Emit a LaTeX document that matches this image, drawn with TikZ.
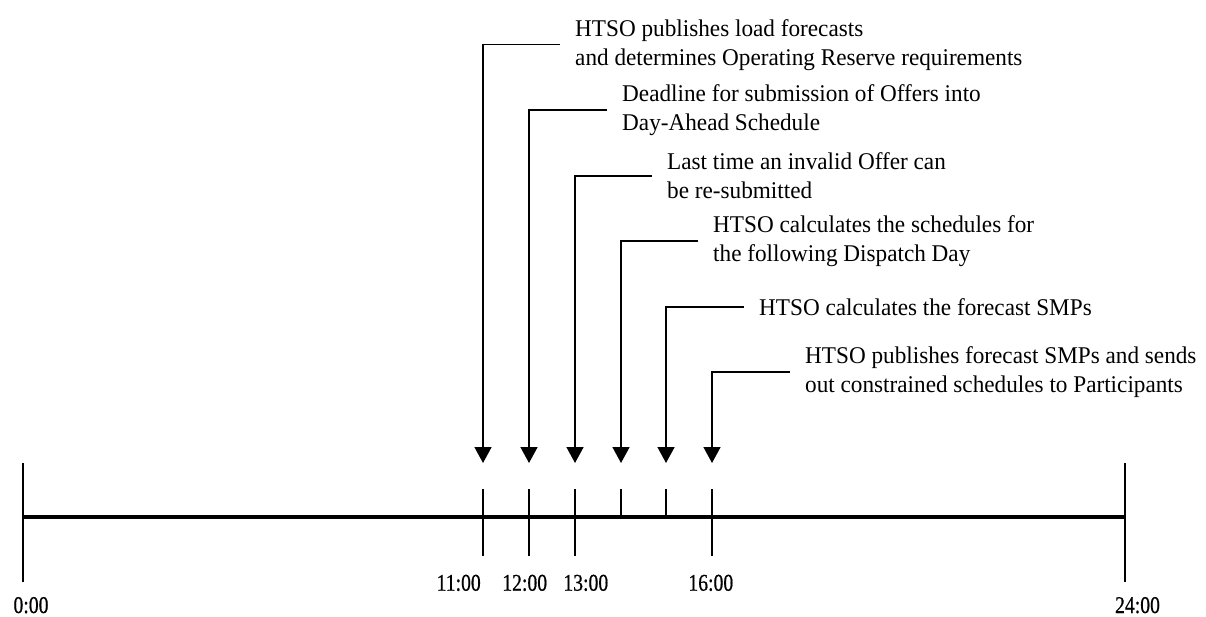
\documentclass[tikz,border=0pt]{standalone}
\usepackage{fontspec}
\setmainfont[FakeStretch=0.967]{Liberation Serif}
\newfontfamily\lblfont[FakeStretch=0.82,FakeBold=0.6]{Liberation Serif}
\usetikzlibrary{arrows.meta}
\begin{document}
\begin{tikzpicture}[x=1pt,y=-1pt,
  tickline/.style={line width=1.6pt},
  axisline/.style={line width=4.5pt},
  conn/.style={line width=1.6pt,-{Triangle[length=16pt,width=17pt]}},
  evt/.style={anchor=west,inner sep=0pt,align=left,font=\fontsize{24}{29}\selectfont},
  lbl/.style={anchor=base,inner sep=0pt,font=\lblfont\fontsize{24}{28}\selectfont}]
\useasboundingbox (0,0) rectangle (1206,617);

% axis
\coordinate (a0) at (23,517);
\coordinate (a24) at (1125,517);
\draw[axisline] (a0) -- (a24);
\draw[tickline] (23,463) -- (23,582);
\draw[tickline] (1125,463) -- (1125,582);

% event ticks
\foreach \x in {483,529,575,712} \draw[tickline] (\x,489) -- (\x,556);
\foreach \x in {621,666} \draw[tickline] (\x,489) -- (\x,517);

% labels
\node[lbl] (l0)  at (31,613) {0:00};
\node[lbl] (l11) at (458.7,590.7) {11:00};
\node[lbl] (l12) at (524.7,590.7) {12:00};
\node[lbl] (l13) at (585.8,590.7) {13:00};
\node[lbl] (l16) at (710.8,590.7) {16:00};
\node[lbl] (l24) at (1137.5,613) {24:00};

% event texts
\node[evt] (t1) at (575,44.7) {HTSO publishes load forecasts\\and determines Operating Reserve requirements};
\node[evt] (t2) at (622,110) {Deadline for submission of Offers into\\Day-Ahead Schedule};
\node[evt] (t3) at (667,176) {Last time an invalid Offer can\\be re-submitted};
\node[evt] (t4) at (713,241) {HTSO calculates the schedules for\\the following Dispatch Day};
\node[evt] (t5) at (759,307) {HTSO calculates the forecast SMPs};
\node[evt] (t6) at (805,372) {HTSO publishes forecast SMPs and sends\\out constrained schedules to Participants};

% arrow tips
\coordinate (e1) at (483,463);
\coordinate (e2) at (529,463);
\coordinate (e3) at (575,463);
\coordinate (e4) at (621,463);
\coordinate (e5) at (666,463);
\coordinate (e6) at (712,463);

\foreach \i in {1,...,6}
  \draw[conn] ([xshift=-15pt]t\i.west) -| (e\i);
\end{tikzpicture}
\end{document}
